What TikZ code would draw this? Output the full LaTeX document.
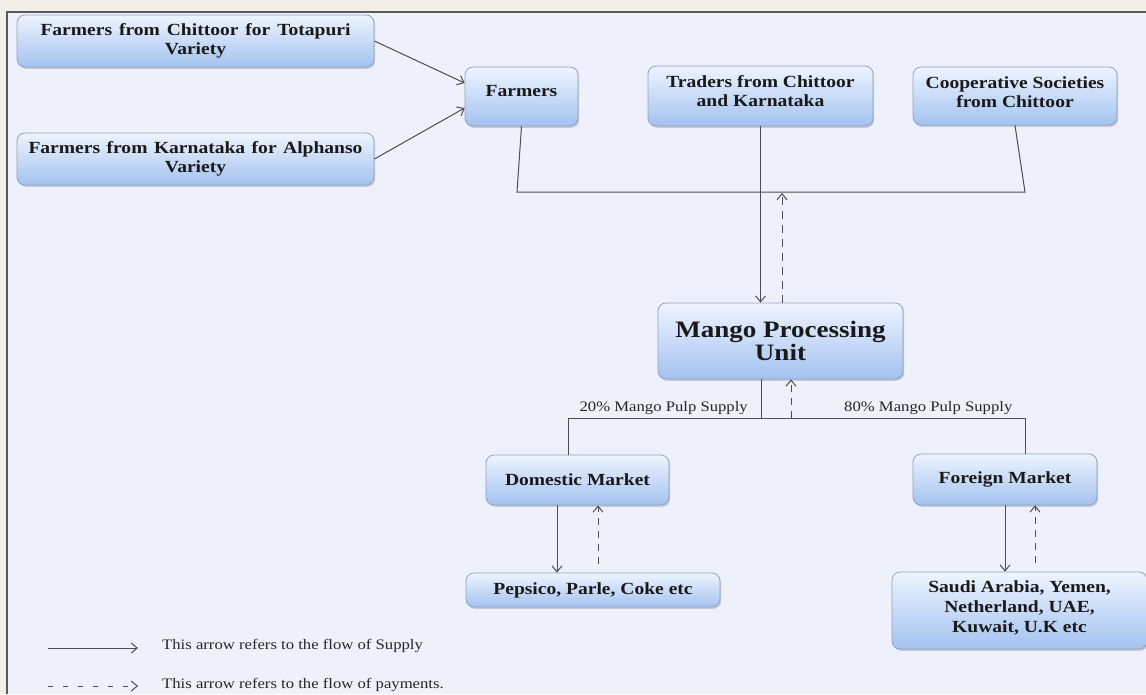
\documentclass[tikz,border=0pt]{standalone}
\usepackage{fontspec}
\setmainfont{Liberation Serif}[FakeStretch=1.15]
\usetikzlibrary{arrows.meta,shadows}
\definecolor{pagebg}{HTML}{F2EFE9}
\definecolor{panel}{HTML}{EEF1FB}
\definecolor{framecol}{HTML}{5A5A5A}
\definecolor{boxtop}{HTML}{EEF4FE}
\definecolor{boxbot}{HTML}{A3C2F0}
\definecolor{boxedge}{HTML}{8EA3C2}
\definecolor{lncol}{HTML}{4D4D4D}
\newcommand\lowerpad[1]{\rule[-#1]{0pt}{#1}}
\tikzset{
  box/.style={rectangle, rounded corners=8pt, draw=boxedge, line width=0.8pt,
    top color=boxtop, bottom color=boxbot,
    drop shadow={shadow xshift=1.2pt, shadow yshift=-1.8pt, opacity=0.35, fill=gray},
    font=\bfseries\fontsize{17}{19.5}\selectfont, text=black!90, align=center, inner sep=0pt},
  bigbox/.style={box, font=\bfseries\fontsize{23.5}{23}\selectfont},
  lnk/.style={draw=lncol, line width=1pt},
  sup/.style={lnk, -{Straight Barb[length=6pt,width=10pt]}},
  pay/.style={sup, dash pattern=on 7pt off 6pt},
  lbl/.style={font=\fontsize{14.5}{16}\selectfont, text=black!85, inner sep=0pt},
}
\begin{document}
\begin{tikzpicture}[x=1pt,y=-1pt]
\useasboundingbox (0,0) rectangle (1146,694);
\clip (0,0) rectangle (1146,694);
\fill[pagebg] (0,0) rectangle (1146,694);
\fill[panel] (7,12) rectangle (1146,694);
\draw[framecol, line width=1.2pt] (7,694) -- (7,12) -- (1146,12);

% boxes
\node[box, minimum width=357pt, minimum height=52pt] (tlA) at (195.5,41)
  {\makebox[310pt][s]{Farmers from Chittoor for Totapuri}\\Variety};
\node[box, minimum width=357pt, minimum height=52pt] (tlB) at (195.5,159)
  {\makebox[334pt][s]{Farmers from Karnataka for Alphanso}\\Variety};
\node[box, minimum width=113pt, minimum height=59pt] (farm) at (521.5,96.5)
  {Farmers\lowerpad{12pt}};
\node[box, minimum width=225pt, minimum height=60pt] (trad) at (760.5,96)
  {Traders from Chittoor\\and Karnataka\lowerpad{10pt}};
\node[box, minimum width=204pt, minimum height=58pt] (coop) at (1015,96)
  {Cooperative Societies\\from Chittoor\lowerpad{8pt}};
\node[bigbox, minimum width=245pt, minimum height=76pt] (mango) at (780.5,341)
  {Mango Processing\\Unit};
\node[box, minimum width=183pt, minimum height=50pt] (dom) at (577.5,480)
  {Domestic Market};
\node[box, minimum width=184pt, minimum height=51pt] (for) at (1005,479.5)
  {Foreign Market};
\node[box, minimum width=254pt, minimum height=34pt] (pep) at (593,590)
  {Pepsico, Parle, Coke etc};
\node[box, minimum width=255pt, minimum height=77pt, font=\bfseries\fontsize{17}{20}\selectfont] (sau) at (1019.5,610.5)
  {Saudi Arabia, Yemen,\\Netherland, UAE,\\Kuwait, U.K etc\lowerpad{7pt}};

% coordinates
\coordinate (jl) at (517,192);
\coordinate (jr) at (1025,192);
\coordinate (ptop) at (782,193);
\coordinate (bl) at (568,418);
\coordinate (br) at (1025,418);
\coordinate (bm) at (761,418);
\coordinate (pb) at (791,418);
\coordinate (dsup) at ([xshift=-20.5pt]dom.south);
\coordinate (dpay) at ([xshift=20.5pt]dom.south);
\coordinate (fpay) at ([xshift=30pt]for.south);

% upper connectors
\draw[sup] (tlA.east) -- ([yshift=13.5pt]farm.west);
\draw[sup] (tlB.east) -- ([yshift=-11.5pt]farm.west);
\draw[lnk] (farm.south) -- (jl) -- (jr) -- (coop.south);
\draw[sup] (trad.south) -- (trad.south |- mango.north);
\draw[pay, dash pattern=on 8pt off 6pt] (mango.north -| ptop) -- (ptop);

% lower connectors
\draw[lnk] (bm |- mango.south) -- (bm);
\draw[lnk] (bl |- dom.north) -- (bl) -- (br) -- (br |- for.north);
\draw[pay] (pb) -- (pb |- mango.south);
\draw[sup] (dsup) -- (dsup |- pep.north);
\draw[pay] ([yshift=9pt]dpay |- pep.north) -- (dpay);
\draw[sup] (for.south) -- (for.south |- sau.north);
\draw[pay] ([yshift=9pt]fpay |- sau.north) -- (fpay);

% labels
\node[lbl, anchor=east] (l20) at (748,408) {20\% Mango Pulp Supply};
\node[lbl, anchor=west] (l80) at (844,408) {80\% Mango Pulp Supply};

% legend
\coordinate (lsA) at (48,648);
\coordinate (lsB) at (138,648);
\coordinate (lpA) at (48,686);
\coordinate (lpB) at (138,686);
\draw[sup] (lsA) -- (lsB);
\draw[sup, dash pattern=on 5pt off 10pt] (lpA) -- (lpB);
\node[lbl, anchor=west] (legS) at (162,646) {This arrow refers to the flow of Supply};
\node[lbl, anchor=west] (legP) at (162,685) {This arrow refers to the flow of payments.};
\end{tikzpicture}
\end{document}
